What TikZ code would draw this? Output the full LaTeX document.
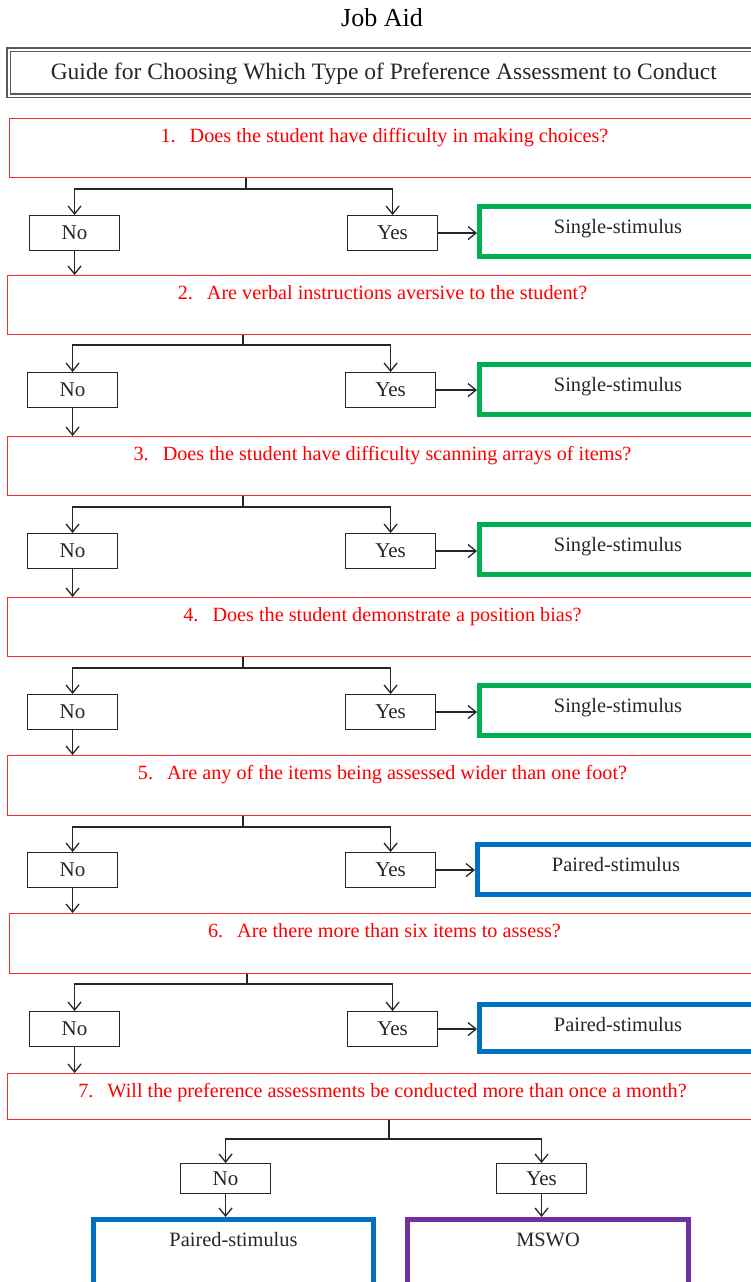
\documentclass[tikz,border=0pt]{standalone}
\usepackage{fontspec}
\setmainfont{Liberation Serif}
\usetikzlibrary{arrows.meta}

\definecolor{qred}{RGB}{255,0,0}
\definecolor{qline}{RGB}{250,45,45}
\definecolor{ssgreen}{RGB}{0,176,80}
\definecolor{psblue}{RGB}{0,112,192}
\definecolor{mswopurple}{RGB}{112,48,160}

\newcommand{\jobfont}{\fontsize{26}{30}\selectfont}
\newcommand{\guidefont}{\fontsize{23.5}{28}\selectfont}
\newcommand{\questfont}{\fontsize{20.2}{24}\selectfont}
\newcommand{\ansfont}{\fontsize{21}{25}\selectfont}
\newcommand{\resfont}{\fontsize{20.4}{24}\selectfont}

\tikzset{
  qbox/.style={draw=qline, line width=1pt, anchor=north west, inner sep=0pt,
    minimum width=750pt, text=qred, font=\questfont, text height=24pt, text depth=35pt},
  ansbox/.style={draw=black!85, line width=1.1pt, anchor=north west, inner sep=0pt,
    minimum width=90pt, minimum height=35pt, text=black!85, font=\ansfont},
  resbox/.style={draw=#1, line width=5pt, anchor=north west, inner sep=0pt,
    minimum width=277pt, text=black!85, font=\resfont, text height=26.5pt, text depth=23.5pt},
  stem/.style={draw=black!85, line width=1.3pt},
  link/.style={draw=black!85, line width=1.3pt, -{Straight Barb[length=8pt,width=13pt]}}
}

\begin{document}
\begin{tikzpicture}[x=1pt,y=-1pt]
		\useasboundingbox (0,0) rectangle (750,1282);
		\node [anchor=base, font=\jobfont] (jobaid) at (382,27) {Job Aid};
		\node [draw=black!65, line width=1.5pt, double=white, double distance=2pt, anchor=north west,
			inner sep=0pt, minimum width=750pt, font=\guidefont, text=black!85,
			text height=29.5pt, text depth=16.5pt] (title) at (8,49)
			{Guide for Choosing Which Type of Preference Assessment to Conduct};
		% questions
		\node [qbox] (q1) at (9,118) {1.\hspace{14pt}Does the student have difficulty in making choices?};
		\node [qbox] (q2) at (7,275) {2.\hspace{14pt}Are verbal instructions aversive to the student?};
		\node [qbox] (q3) at (7,436) {3.\hspace{14pt}Does the student have difficulty scanning arrays of items?};
		\node [qbox] (q4) at (7,597) {4.\hspace{14pt}Does the student demonstrate a position bias?};
		\node [qbox, text depth=36pt] (q5) at (7,755) {5.\hspace{14pt}Are any of the items being assessed wider than one foot?};
		\node [qbox, text depth=36pt] (q6) at (9,913) {6.\hspace{14pt}Are there more than six items to assess?};
		\node [qbox, text depth=22pt] (q7) at (7,1073) {7.\hspace{14pt}Will the preference assessments be conducted more than once a month?};
		% answers
		\node [ansbox] (n1) at (29,215) {No};
		\node [ansbox] (y1) at (347,215) {Yes};
		\node [ansbox] (n2) at (27,372) {No};
		\node [ansbox] (y2) at (345,372) {Yes};
		\node [ansbox] (n3) at (27,533) {No};
		\node [ansbox] (y3) at (345,533) {Yes};
		\node [ansbox] (n4) at (27,694) {No};
		\node [ansbox] (y4) at (345,694) {Yes};
		\node [ansbox] (n5) at (27,852) {No};
		\node [ansbox] (y5) at (345,852) {Yes};
		\node [ansbox] (n6) at (29,1011) {No};
		\node [ansbox] (y6) at (347,1011) {Yes};
		\node [ansbox, minimum height=30pt] (n7) at (180,1163) {No};
		\node [ansbox, minimum height=30pt] (y7) at (496,1163) {Yes};
		% results
		\node [resbox=ssgreen] (r1) at (477,204) {Single-stimulus};
		\node [resbox=ssgreen] (r2) at (477,362) {Single-stimulus};
		\node [resbox=ssgreen] (r3) at (477,522) {Single-stimulus};
		\node [resbox=ssgreen] (r4) at (477,683) {Single-stimulus};
		\node [resbox=psblue] (r5) at (475,842) {Paired-stimulus};
		\node [resbox=psblue, text depth=20pt] (r6) at (477,1002) {Paired-stimulus};
		\node [resbox=psblue, minimum width=280pt, text depth=60pt] (r7a) at (91,1217) {Paired-stimulus};
		\node [resbox=mswopurple, minimum width=281pt, text depth=60pt] (r7b) at (405,1217) {MSWO};
		% branch points
		\coordinate (j1) at (246,189);
		\coordinate (j2) at (243,345);
		\coordinate (j3) at (243,507);
		\coordinate (j4) at (243,668);
		\coordinate (j5) at (243,827);
		\coordinate (j6) at (247,984);
		\coordinate (j7) at (389,1139);
		% connectors
		\draw [stem] (q1.south -| j1) -- (j1);
		\draw [link] (j1) -| (n1);
		\draw [link] (j1) -| (y1);
		\draw [link] (y1) -- (r1.west |- y1);
		\draw [link] (n1) -- (q2.north -| n1);
		\draw [stem] (q2.south -| j2) -- (j2);
		\draw [link] (j2) -| (n2);
		\draw [link] (j2) -| (y2);
		\draw [link] (y2) -- (r2.west |- y2);
		\draw [link] (n2) -- (q3.north -| n2);
		\draw [stem] (q3.south -| j3) -- (j3);
		\draw [link] (j3) -| (n3);
		\draw [link] (j3) -| (y3);
		\draw [link] (y3) -- (r3.west |- y3);
		\draw [link] (n3) -- (q4.north -| n3);
		\draw [stem] (q4.south -| j4) -- (j4);
		\draw [link] (j4) -| (n4);
		\draw [link] (j4) -| (y4);
		\draw [link] (y4) -- (r4.west |- y4);
		\draw [link] (n4) -- (q5.north -| n4);
		\draw [stem] (q5.south -| j5) -- (j5);
		\draw [link] (j5) -| (n5);
		\draw [link] (j5) -| (y5);
		\draw [link] (y5) -- (r5.west |- y5);
		\draw [link] (n5) -- (q6.north -| n5);
		\draw [stem] (q6.south -| j6) -- (j6);
		\draw [link] (j6) -| (n6);
		\draw [link] (j6) -| (y6);
		\draw [link] (y6) -- (r6.west |- y6);
		\draw [link] (n6) -- (q7.north -| n6);
		\draw [stem] (q7.south -| j7) -- (j7);
		\draw [link] (j7) -| (n7);
		\draw [link] (j7) -| (y7);
		\draw [link] (n7) -- (r7a.north -| n7);
		\draw [link] (y7) -- (r7b.north -| y7);
	\end{tikzpicture}
\end{document}
